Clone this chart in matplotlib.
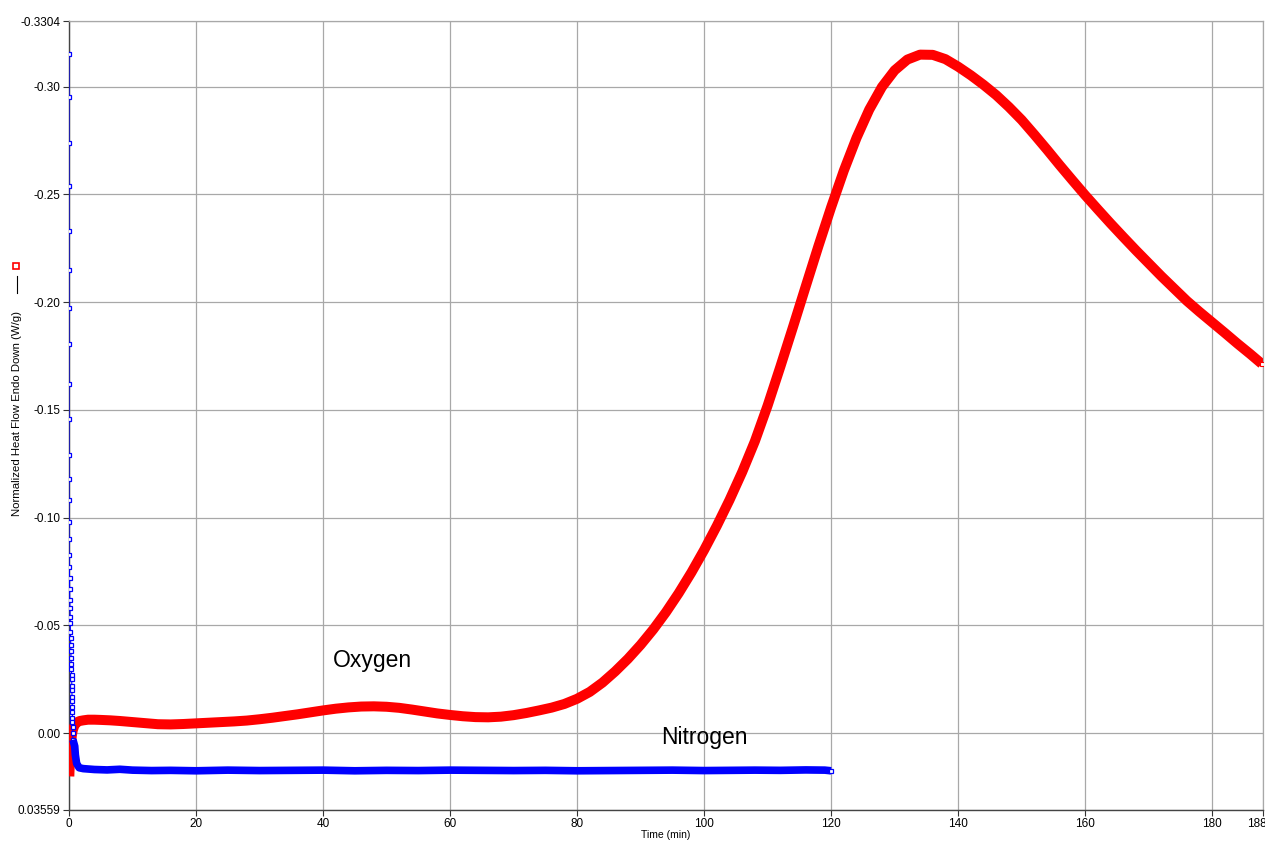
"""Isothermal DSC trace: normalized heat flow of the sample held under oxygen vs nitrogen."""
import matplotlib
matplotlib.use("Agg")
import matplotlib.pyplot as plt
import matplotlib.transforms as mtransforms
from matplotlib.lines import Line2D

plt.rcParams["font.family"] = ["Liberation Sans", "DejaVu Sans"]

# oxygen run (min, W/g; endo down, so exotherm plots upward on the inverted axis)
o2_t = [0.05, 0.1, 0.2, 0.3, 0.45, 0.6, 0.8, 1.0, 1.3, 1.7, 2.25, 3.0, 4.0, 5.0, 6.5,
        8, 10, 12, 14, 16, 18, 20, 22, 24, 26, 28, 30, 32, 34, 36, 38, 40, 42, 44,
        46, 48, 50, 52, 54, 56, 58, 60, 62, 64, 66, 68, 70, 72, 74, 76, 78, 80, 82,
        84, 86, 88, 90, 92, 94, 96, 98, 100, 102, 104, 106, 108, 110, 112, 114, 116,
        118, 120, 122, 124, 126, 128, 130, 132, 134, 136, 138, 140, 142, 144, 146,
        148, 150, 152, 154, 156, 158, 160, 162, 164, 166, 168, 170, 172, 174, 176,
        178, 180, 182, 184, 186, 187.8]
o2_hf = [0.020, 0.016, 0.010, 0.005, 0.001, -0.0015, -0.0032, -0.0043, -0.0052,
         -0.0057, -0.0060, -0.0063, -0.0063, -0.0062, -0.0060, -0.0057, -0.0052,
         -0.0047, -0.0042, -0.0041, -0.0043, -0.0046, -0.0049, -0.0052, -0.0055,
         -0.0059, -0.0065, -0.0072, -0.0080, -0.0088, -0.0097, -0.0106, -0.0114,
         -0.0120, -0.0124, -0.0125, -0.0123, -0.0118, -0.0110, -0.0101, -0.0092,
         -0.0085, -0.0079, -0.0075, -0.0074, -0.0077, -0.0084, -0.0094, -0.0106,
         -0.0119, -0.0136, -0.0160, -0.0192, -0.0235, -0.0287, -0.0345, -0.0410,
         -0.0482, -0.0562, -0.0650, -0.0746, -0.0850, -0.0962, -0.1082, -0.1212,
         -0.1355, -0.1520, -0.1700, -0.1885, -0.2073, -0.2260, -0.2440, -0.2610,
         -0.2762, -0.2893, -0.2998, -0.3075, -0.3125, -0.3148, -0.3147, -0.3127,
         -0.3092, -0.3052, -0.3008, -0.2960, -0.2905, -0.2845, -0.2777, -0.2707,
         -0.2635, -0.2565, -0.2496, -0.2430, -0.2365, -0.2302, -0.2240, -0.2180,
         -0.2120, -0.2063, -0.2006, -0.1955, -0.1906, -0.1857, -0.1807, -0.1759,
         -0.1714]

# nitrogen run: initial equilibration transient, then the flat baseline
n2_t_start = [0.0, 0.0, 0.0, 0.0, 0.0, 0.0, 0.0, 0.0, 0.0, 0.0, 0.0, 0.0, 0.0, 0.0,
              0.0, 0.0, 0.05, 0.08, 0.1, 0.12, 0.15, 0.18, 0.2, 0.22, 0.25, 0.28,
              0.3, 0.32, 0.35, 0.38, 0.4, 0.42, 0.45, 0.45, 0.48, 0.5, 0.5, 0.52,
              0.55, 0.55, 0.58, 0.6, 0.62]
n2_hf_start = [-0.315, -0.295, -0.274, -0.254, -0.233, -0.215, -0.1975, -0.1805,
               -0.162, -0.146, -0.129, -0.118, -0.108, -0.098, -0.090, -0.0825,
               -0.077, -0.072, -0.067, -0.062, -0.058, -0.054, -0.051, -0.047,
               -0.044, -0.041, -0.038, -0.035, -0.032, -0.030, -0.027, -0.025,
               -0.022, -0.020, -0.017, -0.015, -0.012, -0.010, -0.007, -0.005,
               -0.003, 0.000, 0.003]
n2_t = [0.62, 0.9, 1.0, 1.2, 1.6, 2.25, 4, 6, 8, 10, 13, 16, 20, 25, 30, 35, 40, 45,
        50, 55, 60, 65, 70, 75, 80, 85, 90, 95, 100, 104, 108, 112, 116, 119, 120]
n2_hf = [0.003, 0.006, 0.010, 0.014, 0.0160, 0.0164, 0.0168, 0.0170, 0.0167, 0.0171,
         0.0173, 0.0172, 0.0174, 0.0171, 0.0173, 0.0172, 0.0171, 0.0174, 0.0172,
         0.0173, 0.0171, 0.0172, 0.0173, 0.0172, 0.0174, 0.0173, 0.0172, 0.0171,
         0.0173, 0.0172, 0.0171, 0.0172, 0.0170, 0.0171, 0.0174]

XTICKS = [0, 20, 40, 60, 80, 100, 120, 140, 160, 180, 188]
YTICKS = [-0.3304, -0.30, -0.25, -0.20, -0.15, -0.10, -0.05, 0.00, 0.03559]
YTICKLABELS = ["-0.3304", "-0.30", "-0.25", "-0.20", "-0.15", "-0.10", "-0.05",
               "0.00", "0.03559"]

fig = plt.figure(figsize=(12.65, 8.44), dpi=100)
ax = fig.add_axes([69 / 1265, 1 - 810 / 844, 1194 / 1265, 789 / 844])

ax.plot(o2_t, o2_hf, color="#ff0000", lw=7.2, solid_capstyle="butt",
        solid_joinstyle="round", zorder=3)
ax.plot([o2_t[-1]], [o2_hf[-1]], "s", ms=3, mfc="white", mec="#ff0000", mew=0.8,
        zorder=4)

ax.plot(n2_t_start, n2_hf_start, color="#0000ff", lw=0.8, marker="s", ms=3.2,
        mfc="white", mec="#0000ff", mew=0.9, zorder=3)
ax.plot(n2_t, n2_hf, color="#0000ff", lw=5.5, solid_capstyle="butt",
        solid_joinstyle="round", zorder=3)
ax.plot([n2_t[-1]], [n2_hf[-1]], "s", ms=3.5, mfc="white", mec="#0000ff", mew=0.9,
        zorder=4)

ax.text(41.6, -0.0337, "Oxygen", fontsize=16.5, ha="left", va="center")
ax.text(93.2, 0.0018, "Nitrogen", fontsize=16.5, ha="left", va="center")

ax.set_xlim(0, 188)
ax.set_ylim(0.03559, -0.3304)
ax.set_xticks(XTICKS)
ax.set_xticklabels([str(v) for v in XTICKS])
ax.set_yticks(YTICKS)
ax.set_yticklabels(YTICKLABELS)
ax.tick_params(axis="both", direction="out", length=4, width=0.8, labelsize=8.5,
               color="#333333", pad=2)
ax.grid(True, color="#a8a8a8", lw=0.9)
ax.set_axisbelow(True)
for s in ("top", "right"):
    ax.spines[s].set_color("#a8a8a8")
    ax.spines[s].set_linewidth(0.9)
for s in ("left", "bottom"):
    ax.spines[s].set_color("#444444")
    ax.spines[s].set_linewidth(1.0)

# nudge the end-of-range label left so it sits at the figure edge
last = ax.get_xticklabels()[-1]
last.set_transform(last.get_transform() +
                   mtransforms.ScaledTranslation(-6 / 100, 0, fig.dpi_scale_trans))

ax.set_xlabel("Time (min)", fontsize=7.5, labelpad=0)

# rotated y label with its line/marker key
fig.text(17 / 1265, 1 - 414 / 844, "Normalized Heat Flow Endo Down (W/g)",
         rotation=90, fontsize=8.2, ha="center", va="center")
fig.add_artist(Line2D([17 / 1265, 17 / 1265], [1 - 293 / 844, 1 - 276 / 844],
                      color="black", lw=0.8))
fig.add_artist(Line2D([16 / 1265], [1 - 266 / 844], marker="s", ms=4,
                      mfc="white", mec="#ff0000", mew=1.2))

fig.savefig("out.png", dpi=100)
